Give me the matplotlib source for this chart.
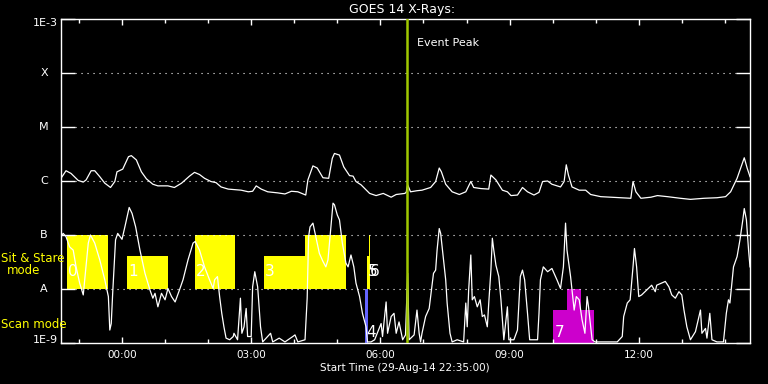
import numpy as np
import pandas as pd
import matplotlib
matplotlib.use('Agg')
import matplotlib.pyplot as plt
from matplotlib.ticker import NullLocator

start = pd.Timestamp('2014-08-29 22:35:00')
event_peak = pd.Timestamp('2014-08-30 06:37:00')

# long channel: minutes after start, log10 flux (W/m^2)
long_min = [0, 7, 14, 24, 31, 35, 42, 47, 54, 61,
            69, 75, 78, 86, 94, 98, 105, 112, 119, 128,
            135, 149, 158, 168, 179, 186, 193, 200, 209, 216,
            223, 233, 251, 261, 267, 272, 279, 288, 302, 312,
            321, 330, 341, 344, 351, 357, 365, 373, 378, 381,
            388, 394, 402, 407, 411, 418, 430, 439, 449, 460,
            467, 479, 481, 483, 487, 496, 503, 515, 522, 527,
            530, 536, 545, 555, 564, 571, 575, 585, 596, 599,
            606, 615, 622, 627, 636, 643, 650, 659, 666, 671,
            678, 684, 696, 701, 704, 707, 712, 722, 731, 738,
            752, 766, 780, 794, 797, 801, 808, 822, 831, 845,
            863, 877, 896, 914, 926, 933, 942, 947, 952, 956,
            960]
long_log = [-5.95, -5.81, -5.86, -5.99, -6.02, -5.98, -5.81, -5.81, -5.92, -6.04,
            -6.12, -6.01, -5.83, -5.78, -5.55, -5.53, -5.61, -5.83, -5.96, -6.06,
            -6.09, -6.09, -6.12, -6.04, -5.91, -5.84, -5.88, -5.95, -6.01, -6.03,
            -6.11, -6.15, -6.17, -6.20, -6.19, -6.09, -6.15, -6.20, -6.22, -6.24,
            -6.19, -6.20, -6.26, -5.98, -5.72, -5.76, -5.94, -5.95, -5.58, -5.49,
            -5.52, -5.74, -5.90, -5.91, -6.01, -6.07, -6.23, -6.27, -6.23, -6.30,
            -6.25, -6.23, -6.21, -6.07, -6.20, -6.18, -6.17, -6.12, -6.01, -5.76,
            -5.83, -6.06, -6.20, -6.25, -6.20, -6.01, -6.12, -6.14, -6.15, -5.89,
            -5.98, -6.17, -6.20, -6.27, -6.26, -6.12, -6.20, -6.26, -6.21, -6.01,
            -6.00, -6.06, -6.11, -6.01, -5.70, -5.89, -6.11, -6.17, -6.17, -6.25,
            -6.29, -6.30, -6.31, -6.32, -6.01, -6.20, -6.32, -6.30, -6.27, -6.29,
            -6.32, -6.34, -6.32, -6.31, -6.29, -6.20, -5.95, -5.76, -5.57, -5.76,
            -5.92]

# short channel
short_min = [0, 3, 7, 12, 17, 21, 26, 31, 33, 38,
             41, 47, 54, 61, 66, 68, 70, 72, 76, 79,
             85, 89, 95, 99, 104, 110, 117, 124, 128, 131,
             135, 140, 145, 149, 154, 159, 165, 170, 177, 184,
             187, 193, 200, 207, 212, 214, 218, 221, 224, 227,
             230, 235, 240, 241, 246, 250, 252, 255, 258, 260,
             265, 267, 270, 274, 278, 281, 292, 295, 304, 312,
             323, 326, 330, 340, 343, 345, 347, 351, 355, 360,
             365, 369, 372, 376, 379, 381, 385, 388, 392, 397,
             400, 404, 408, 411, 416, 420, 425, 427, 432, 437,
             446, 448, 453, 455, 460, 464, 467, 471, 476, 480,
             483, 485, 492, 496, 499, 501, 503, 508, 513, 515,
             519, 522, 524, 527, 529, 533, 536, 538, 542, 545,
             552, 561, 564, 566, 568, 571, 573, 576, 580, 584,
             587, 590, 594, 596, 599, 601, 603, 606, 610, 613,
             617, 622, 624, 631, 636, 640, 643, 646, 650, 653,
             664, 666, 668, 672, 678, 684, 691, 696, 700, 703,
             705, 710, 715, 718, 722, 726, 730, 733, 735, 740,
             744, 775, 782, 784, 789, 793, 797, 799, 802, 805,
             809, 816, 823, 828, 830, 837, 842, 847, 851, 856,
             861, 865, 868, 872, 877, 884, 891, 893, 898, 900,
             904, 907, 914, 923, 927, 930, 932, 937, 942, 946,
             950, 952, 955, 958, 960]
short_log = [-7.03, -6.97, -7.03, -7.22, -7.28, -7.59, -7.89, -8.11, -7.83, -7.15,
             -7.00, -7.15, -7.46, -7.83, -8.14, -8.76, -8.64, -8.08, -7.09, -6.97,
             -7.08, -6.85, -6.49, -6.60, -6.85, -7.28, -7.71, -8.02, -8.17, -8.08,
             -8.33, -8.08, -8.20, -7.99, -8.14, -8.24, -8.02, -7.83, -7.46, -7.15,
             -7.12, -7.28, -7.59, -7.83, -7.99, -7.83, -7.77, -8.14, -8.45, -8.70,
             -8.91, -8.94, -8.88, -8.82, -8.94, -8.17, -8.82, -8.70, -8.36, -8.88,
             -8.88, -7.96, -7.68, -7.96, -8.70, -8.98, -8.82, -8.98, -8.91, -8.98,
             -8.88, -8.85, -8.98, -8.94, -8.17, -7.03, -6.85, -6.78, -7.03, -7.34,
             -7.49, -7.59, -7.46, -6.85, -6.41, -6.44, -6.63, -6.72, -7.15, -7.52,
             -7.59, -7.37, -7.59, -7.89, -8.14, -8.45, -8.70, -8.98, -8.98, -8.94,
             -8.64, -8.88, -8.24, -8.82, -8.51, -8.45, -8.82, -8.61, -8.94, -8.85,
             -7.71, -8.94, -8.85, -8.39, -8.82, -8.98, -8.82, -8.51, -8.36, -8.14,
             -7.71, -7.65, -7.28, -6.88, -6.97, -7.46, -7.83, -8.26, -8.82, -8.98,
             -8.94, -8.98, -8.26, -8.70, -8.02, -7.37, -8.20, -8.14, -8.33, -8.20,
             -8.51, -8.48, -8.70, -8.26, -7.65, -7.06, -7.28, -7.56, -7.77, -8.20,
             -8.94, -8.33, -8.94, -8.94, -8.76, -7.77, -7.65, -7.83, -8.45, -8.94,
             -8.94, -8.45, -7.83, -7.59, -7.68, -7.62, -7.83, -7.99, -7.59, -6.78,
             -7.28, -7.77, -8.39, -8.14, -8.20, -8.57, -8.82, -8.14, -8.33, -8.94,
             -8.98, -8.98, -8.88, -8.51, -8.26, -8.20, -7.59, -7.25, -7.59, -8.14,
             -8.11, -8.02, -7.93, -8.05, -7.93, -7.89, -7.86, -7.96, -8.11, -8.17,
             -8.05, -8.11, -8.39, -8.70, -8.94, -8.79, -8.39, -8.82, -8.73, -8.91,
             -8.45, -8.94, -8.98, -8.98, -8.45, -8.20, -8.26, -7.59, -7.40, -7.09,
             -6.72, -6.51, -6.72, -7.28, -7.59]

assert len(long_min) == len(long_log) and len(short_min) == len(short_log)

# sit & stare blocks (minutes after start, top level as log10 flux, bottom = A level)
ss_start = [8, 92, 187, 283, 340, 426.3, 428.6]
ss_end = [65, 149, 243, 340, 397, 430, 430]
ss_top = [-7.0, -7.39, -7.0, -7.39, -7.0, -7.39, -7.0]
ss_label = ['0', '1', '2', '3', '', '5', '6']

# scan mode blocks (bottom = 1E-9)
sc_start = [423.5, 685, 705]
sc_end = [427.7, 742, 724]
sc_top = [-8.0, -8.39, -8.0]
sc_color = ['#6464ff', '#cc00cc', '#cc00cc']
sc_label = ['4', '7', '']

levels = [1e-9, 1e-8, 1e-7, 1e-6, 1e-5, 1e-4, 1e-3]
level_names = ['1E-9', 'A', 'B', 'C', 'M', 'X', '1E-3']

W, H = 768, 384
fx = lambda px: px / W
fy = lambda py: 1 - py / H

fig = plt.figure(figsize=(7.68, 3.84), dpi=100, facecolor='black')
ax = fig.add_axes([fx(61), fy(343), fx(750) - fx(61), fy(19) - fy(343)])
ax.set_facecolor('black')
ax.set_yscale('log')
ax.set_xlim(0, 960)
ax.set_ylim(1e-9, 1e-3)

# observing blocks
for s, e, t, lab in zip(ss_start, ss_end, ss_top, ss_label):
    ax.bar(s, 10**t - 1e-8, bottom=1e-8, width=e - s, align='edge',
           color='#ffff00', linewidth=0, zorder=1)
    if lab:
        ax.text(s + 1.5, 10**-7.68, lab, color='white', fontsize=11,
                va='center', ha='left', zorder=4)
for s, e, t, c, lab in zip(sc_start, sc_end, sc_top, sc_color, sc_label):
    ax.bar(s, 10**t - 1e-9, bottom=1e-9, width=e - s, align='edge',
           color=c, linewidth=0, zorder=1)
    if lab:
        ax.text(s + 2.5, 10**-8.81, lab, color='white', fontsize=11,
                va='center', ha='left', zorder=4)

# dotted level lines
ax.hlines(levels[1:-1], 0.0203, 0.9797, transform=ax.get_yaxis_transform(),
          colors='white', linewidth=0.8, linestyles=(0, (1, 4.4)), zorder=2)

ax.plot(long_min, 10**np.array(long_log), color='white', lw=0.9, zorder=3)
ax.plot(short_min, 10**np.array(short_log), color='white', lw=0.9, zorder=3)

ev = (event_peak - start).total_seconds() / 60
ax.axvline(ev, color='#a0c800', lw=1.8, zorder=5)
ax.text(ev + 14, 10**-3.44, 'Event Peak', color='white', fontsize=8,
        va='center', ha='left')

# ticks
ax.set_yticks(levels)
ax.yaxis.set_minor_locator(NullLocator())
ax.tick_params(axis='y', which='major', direction='in', length=10, width=1,
               color='white', left=True, right=True, labelleft=False)
hours = [(start + pd.Timedelta(minutes=m)) for m in range(0, 961)]
minor = [m for m, h in enumerate(hours) if h.minute == 0]
major = [m for m in minor if hours[m].hour % 3 == 0]
ax.set_xticks(major)
ax.set_xticklabels([hours[m].strftime('%H:%M') for m in major])
ax.set_xticks(minor, minor=True)
ax.tick_params(axis='x', which='major', direction='in', length=4.3, width=1,
               color='white', top=True, bottom=True, labelcolor='white',
               labelsize=7.5, pad=5)
ax.tick_params(axis='x', which='minor', direction='in', length=2.9, width=1,
               color='white', top=True, bottom=True)
for sp in ax.spines.values():
    sp.set_color('white')
    sp.set_linewidth(1)

# level labels
for lv, name in zip(levels, level_names):
    if name in ('1E-3', '1E-9'):
        continue
    py = 19 + (-3 - np.log10(lv)) * 54
    fig.text(fx(44), fy(py), name, color='white', fontsize=8, ha='center', va='center')
fig.text(fx(57.5), fy(23), '1E-3', color='white', fontsize=8, ha='right', va='center')
fig.text(fx(57.5), fy(340), '1E-9', color='white', fontsize=8, ha='right', va='center')

fig.text(fx(1), fy(259), 'Sit & Stare', color='#ffff00', fontsize=8.5, ha='left', va='center')
fig.text(fx(24), fy(271), 'mode', color='#ffff00', fontsize=8.5, ha='center', va='center')
fig.text(fx(1), fy(324), 'Scan mode', color='#ffff00', fontsize=8.5, ha='left', va='center')

fig.text(fx(402), fy(9), 'GOES 14 X-Rays:', color='white', fontsize=9, ha='center', va='center')
fig.text(fx(405), fy(368), 'Start Time (' + start.strftime('%d-%b-%y %H:%M:%S') + ')',
         color='white', fontsize=7.5, ha='center', va='center')

fig.savefig('out.png', dpi=100, facecolor='black')
